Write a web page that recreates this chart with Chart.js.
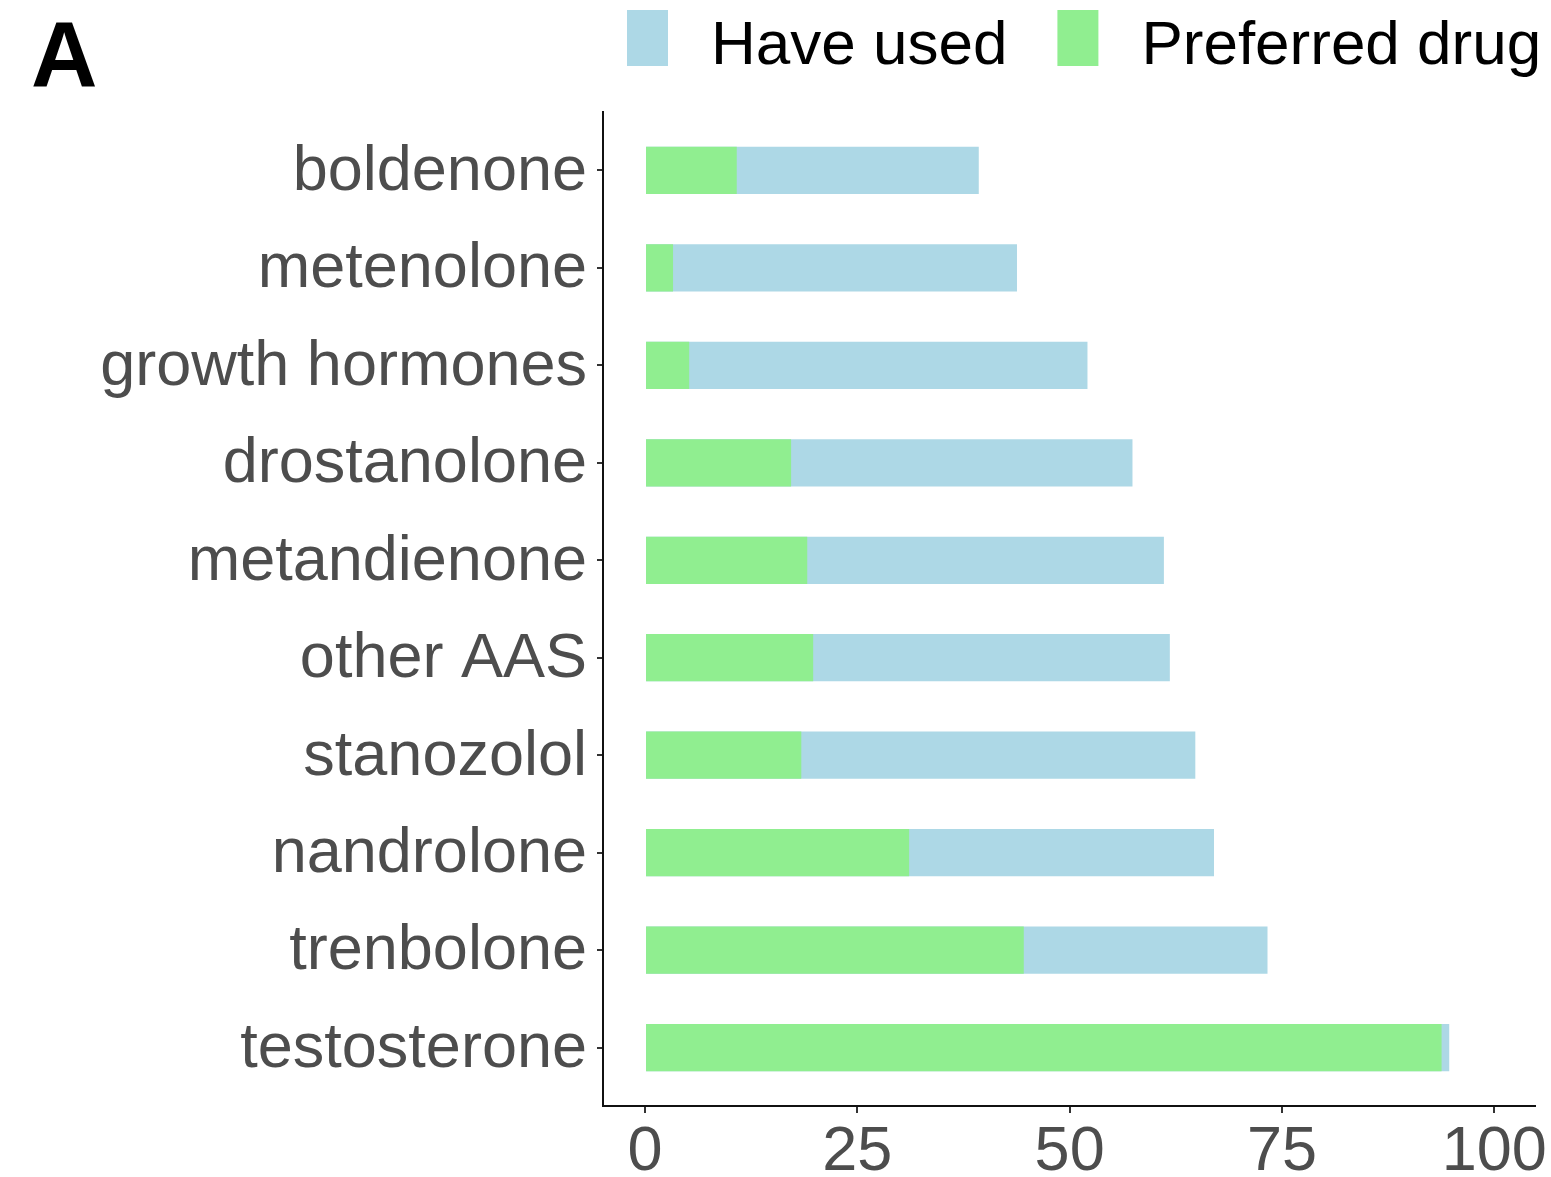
<!DOCTYPE html>
<html>
<head>
<meta charset="utf-8">
<title>Drug use</title>
<script src="https://cdn.jsdelivr.net/npm/chart.js@4.4.1/dist/chart.umd.min.js"></script>
<style>
  html, body { margin: 0; padding: 0; background: #fff; }
  #wrap { width: 1551px; height: 1177px; position: relative; }
</style>
</head>
<body>
<div id="wrap"><canvas id="drugChart"></canvas></div>
<script>
// categories, listed top to bottom as in the figure
const drugs = ['boldenone', 'metenolone', 'growth hormones', 'drostanolone', 'metandienone',
               'other AAS', 'stanozolol', 'nandrolone', 'trenbolone', 'testosterone'];
const haveUsed = [39.3, 43.8, 52.1, 57.4, 61.1, 61.8, 64.8, 67.0, 73.3, 94.7];
const preferred = [10.8, 3.3, 5.2, 17.2, 19.1, 19.8, 18.4, 31.1, 44.6, 93.8];
const xTicks = [0, 25, 50, 75, 100];
const seriesNames = ['Have used', 'Preferred drug'];

const FONT = '"Liberation Sans", Arial, sans-serif';
const BLUE = '#ADD8E6';
const GREEN = '#90EE90';

// panel letter + legend drawn on the canvas (ggplot style layout)
const headerPlugin = {
    id: 'header',
    afterDraw(chart) {
        const ctx = chart.ctx;
        ctx.save();
        ctx.fillStyle = '#000';
        ctx.textBaseline = 'alphabetic';
        ctx.font = 'bold 92px ' + FONT;
        ctx.fillText('A', 31, 86);

        ctx.font = '62px ' + FONT;
        const colors = [BLUE, GREEN];
        let x = 627;
        seriesNames.forEach((name, i) => {
            ctx.fillStyle = colors[i];
            ctx.fillRect(x, 10, 41, 56);
            ctx.fillStyle = '#000';
            ctx.fillText(name, x + 84, 64);
            x += 84 + ctx.measureText(name).width + 50;
        });
        ctx.restore();
    }
};

new Chart(document.getElementById('drugChart'), {
    type: 'bar',
    data: {
        datasets: [
            {
                label: seriesNames[0],
                data: haveUsed.map((v, i) => ({ x: v, y: i })),
                backgroundColor: BLUE,
                order: 2
            },
            {
                label: seriesNames[1],
                data: preferred.map((v, i) => ({ x: v, y: i })),
                backgroundColor: GREEN,
                order: 1
            }
        ]
    },
    plugins: [headerPlugin],
    options: {
        indexAxis: 'y',
        responsive: true,
        maintainAspectRatio: false,
        animation: false,
        layout: { padding: { top: 112, right: 16, bottom: 0, left: 0 } },
        datasets: {
            bar: { grouped: false, categoryPercentage: 1, barPercentage: 0.485, borderWidth: 0 }
        },
        plugins: {
            legend: { display: false },
            tooltip: { enabled: false }
        },
        scales: {
            x: {
                type: 'linear',
                min: -4.95,
                max: 104.8,
                afterBuildTicks: (scale) => { scale.ticks = xTicks.map(v => ({ value: v })); },
                afterFit: (scale) => { scale.height = 71; },
                grid: { drawOnChartArea: false, drawTicks: true, tickLength: 7, color: '#333', lineWidth: 2 },
                border: { display: true, color: '#111', width: 2 },
                ticks: { color: '#4D4D4D', padding: 2, font: { family: FONT, size: 63 }, maxRotation: 0 }
            },
            y: {
                type: 'linear',
                reverse: true,
                offset: false,
                min: -0.6,
                max: 9.6,
                afterBuildTicks: (scale) => { scale.ticks = drugs.map((d, i) => ({ value: i })); },
                afterFit: (scale) => { scale.width = 603; },
                grid: { offset: false, drawOnChartArea: false, drawTicks: true, tickLength: 6, color: '#333', lineWidth: 2 },
                border: { display: true, color: '#111', width: 2 },
                ticks: {
                    color: '#4D4D4D',
                    padding: 10,
                    labelOffset: 2,
                    font: { family: FONT, size: 63 },
                    callback: (v) => drugs[v]
                }
            }
        }
    }
});
</script>
</body>
</html>
